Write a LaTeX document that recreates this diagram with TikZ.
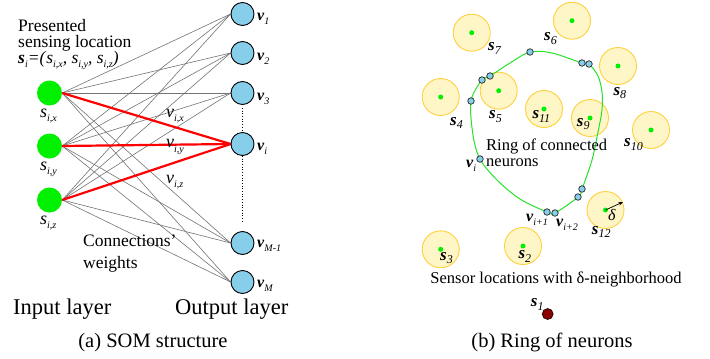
\documentclass[tikz,border=0pt]{standalone}
\usepackage{fontspec}
\setmainfont{Liberation Serif}
\usetikzlibrary{backgrounds,arrows.meta}
\definecolor{ingreen}{RGB}{0,240,0}
\definecolor{outblue}{RGB}{135,206,235}
\definecolor{sfill}{RGB}{255,246,200}
\definecolor{sedge}{RGB}{255,208,60}
\definecolor{ringgreen}{RGB}{40,225,40}
\definecolor{dred}{RGB}{139,0,0}
\newcommand\fsz[1]{\fontsize{#1}{#1}\selectfont}
\newcommand\bsub[2]{\textbf{\textit{#1}}\raisebox{-0.25em}{\fsz{10}\textit{#2}}}
\newcommand\isub[2]{\textit{#1}\raisebox{-0.25em}{\fsz{10}\textit{#2}}}
\newcommand\ssub[2]{\textbf{\textit{#1}}\raisebox{-0.22em}{\fsz{12}\textit{#2}}}
\begin{document}
\begin{tikzpicture}[x=1pt,y=-1pt,
  inp/.style={circle, fill=ingreen, minimum size=25pt, inner sep=0pt},
  outp/.style={circle, draw=black, line width=0.9pt, fill=outblue, minimum size=23pt, inner sep=0pt},
  wline/.style={draw=black!55, line width=0.6pt},
  rline/.style={draw=red, line width=2.2pt},
  sensor/.style={circle, draw=sedge, line width=0.9pt, fill=sfill, minimum size=37pt, inner sep=0pt},
  sdot/.style={circle, fill=ingreen, minimum size=5pt, inner sep=0pt},
  neuron/.style={circle, draw=black!85, line width=0.7pt, fill=outblue, minimum size=6.5pt, inner sep=0pt},
  ring/.style={draw=ringgreen, line width=1pt},
  txt/.style={inner sep=0pt, anchor=base west},
  ctxt/.style={inner sep=0pt, anchor=base}]
\useasboundingbox (0,0) rectangle (710,359);
% ---------------- (a) SOM structure
\node[inp] (ix) at (49.5,93) {};
\node[inp] (iy) at (49.5,146) {};
\node[inp] (iz) at (49.5,200) {};
\node[outp] (o1) at (242.5,14) {};
\node[outp] (o2) at (242.5,53) {};
\node[outp] (o3) at (242.5,93) {};
\node[outp] (oi) at (242.5,144) {};
\node[outp] (oM1) at (242.5,243) {};
\node[outp] (oM) at (242.5,282) {};
\begin{scope}[on background layer]
\foreach \a in {ix,iy,iz}{
  \foreach \b in {o1,o2,o3,oi,oM1,oM}{
    \draw[wline] (\a.east) -- (\b.west);
  }
}
\foreach \a in {ix,iy,iz}{
  \draw[rline] (\a.east) -- (oi.west);
}
\end{scope}
\draw[dotted, line width=0.7pt, shorten <=3pt, shorten >=2pt] (o3.south) -- (oi.north);
\draw[dotted, line width=0.7pt, shorten >=9pt] (oi.south) -- (oM1.north);
\begin{scope}[font=\fsz{16}]
\node[txt] (l1) at (257,20.5) {\bsub{v}{1}};
\node[txt] (l2) at (257,60) {\bsub{v}{2}};
\node[txt] (l3) at (257,100) {\bsub{v}{3}};
\node[txt] (li) at (257,150) {\bsub{v}{i}};
\node[txt] (lM1) at (257,247) {\bsub{v}{M-1}};
\node[txt] (lM) at (257,287) {\bsub{v}{M}};
\end{scope}
\begin{scope}[font=\fsz{18}]
\node[txt] (lx) at (40,117) {\isub{s}{i,x}};
\node[txt] (ly) at (40,170) {\isub{s}{i,y}};
\node[txt] (lz) at (40,224) {\isub{s}{i,z}};
\node[txt] (wx) at (166,117) {\isub{v}{i,x}};
\node[txt] (wy) at (166,147.5) {\isub{v}{i,y}};
\node[txt] (wz) at (166,183) {\isub{v}{i,z}};
\end{scope}
\begin{scope}[font=\fsz{17.5}]
\node[txt] (p1) at (18,31) {Presented};
\node[txt] (p2) at (18,47) {sensing location};
\node[txt] (p3) at (18,63.5) {\bsub{s}{i}\textit{=(}\isub{s}{i,x}\textit{, }\isub{s}{i,y}\textit{, }\isub{s}{i,z}\textit{)}};
\node[txt] (c1) at (83,246) {Connections'};
\node[txt] (c2) at (83,268) {weights};
\end{scope}
\begin{scope}[font=\fsz{22.5}]
\node[txt] (inl) at (13,314) {Input layer};
\node[txt] (outl) at (175,314) {Output layer};
\end{scope}
\node[ctxt, font=\fsz{20.5}] (capa) at (153,347) {(a) SOM structure};
% ---------------- (b) Ring of neurons
\foreach \n/\x/\y in {s7/471.7/32.7, s6/572/20.7, s8/618/66, s4/440.7/97, s5/498.7/90.7, s11/544/109, s9/590/118, s10/651/130, s12/605.5/210, s3/440.7/249.3, s2/523/246}{
  \node[sensor] (\n) at (\x,\y) {};
  \node[sdot] (\n d) at (\x,\y) {};
}
\draw[ring] plot[smooth cycle, tension=0.55] coordinates {(530,52) (552,53) (582,63) (589,64) (598,76) (602,92) (602,110) (598,132) (592,160) (582,189) (578,197) (555,213) (547,212) (520,199) (497,180) (480,159) (473,135) (471,101) (482,80) (490,76) (510,63)};
\foreach \n/\x/\y in {n1/530/52, n2/582/63, n3/589/64, n4/490/76, n5/482/80, n6/471/101, nvi/480/159, n8/582/189, n9/578/197, nv1/547/212, nv2/555/213}{
  \node[neuron] (\n) at (\x,\y) {};
}
\node[circle, fill=dred, draw=black, line width=0.6pt, minimum size=11pt, inner sep=0pt] (s1) at (547.7,314) {};
\coordinate (dtip) at (623,202);
\draw[-{Stealth[length=4.5pt,width=3.5pt]}, line width=0.7pt] (s12d.center) -- (dtip);
\node[txt, font=\fsz{16}] (dl) at (608,220) {\textit{δ}};
\begin{scope}[font=\fsz{17}]
\node[txt] (t7) at (488,50.7) {\ssub{s}{7}};
\node[txt] (t6) at (544,40.7) {\ssub{s}{6}};
\node[txt] (t8) at (613.3,95) {\ssub{s}{8}};
\node[txt] (t4) at (450,125) {\ssub{s}{4}};
\node[txt] (t5) at (489,118.3) {\ssub{s}{5}};
\node[txt] (t11) at (532.3,118.3) {\ssub{s}{11}};
\node[txt] (t9) at (576.7,126) {\ssub{s}{9}};
\node[txt] (t10) at (624,146.7) {\ssub{s}{10}};
\node[txt] (t12) at (591.7,234) {\ssub{s}{12}};
\node[txt] (t3) at (440,260) {\ssub{s}{3}};
\node[txt] (t2) at (518.3,258.3) {\ssub{s}{2}};
\node[txt] (t1) at (530.7,306.7) {\ssub{s}{1}};
\end{scope}
\begin{scope}[font=\fsz{16}]
\node[txt] (tvi) at (466,167) {\bsub{v}{i}};
\node[txt] (tv1) at (526,221.7) {\bsub{v}{i+1}};
\node[txt] (tv2) at (556,226.7) {\bsub{v}{i+2}};
\end{scope}
\begin{scope}[font=\fsz{16.5}]
\node[txt] (r1) at (486,150) {Ring of connected};
\node[txt] (r2) at (486,166.5) {neurons};
\node[ctxt] (sl) at (556,283) {Sensor locations with δ-neighborhood};
\end{scope}
\node[ctxt, font=\fsz{20.5}] (capb) at (552,347) {(b) Ring of neurons};
\end{tikzpicture}
\end{document}
